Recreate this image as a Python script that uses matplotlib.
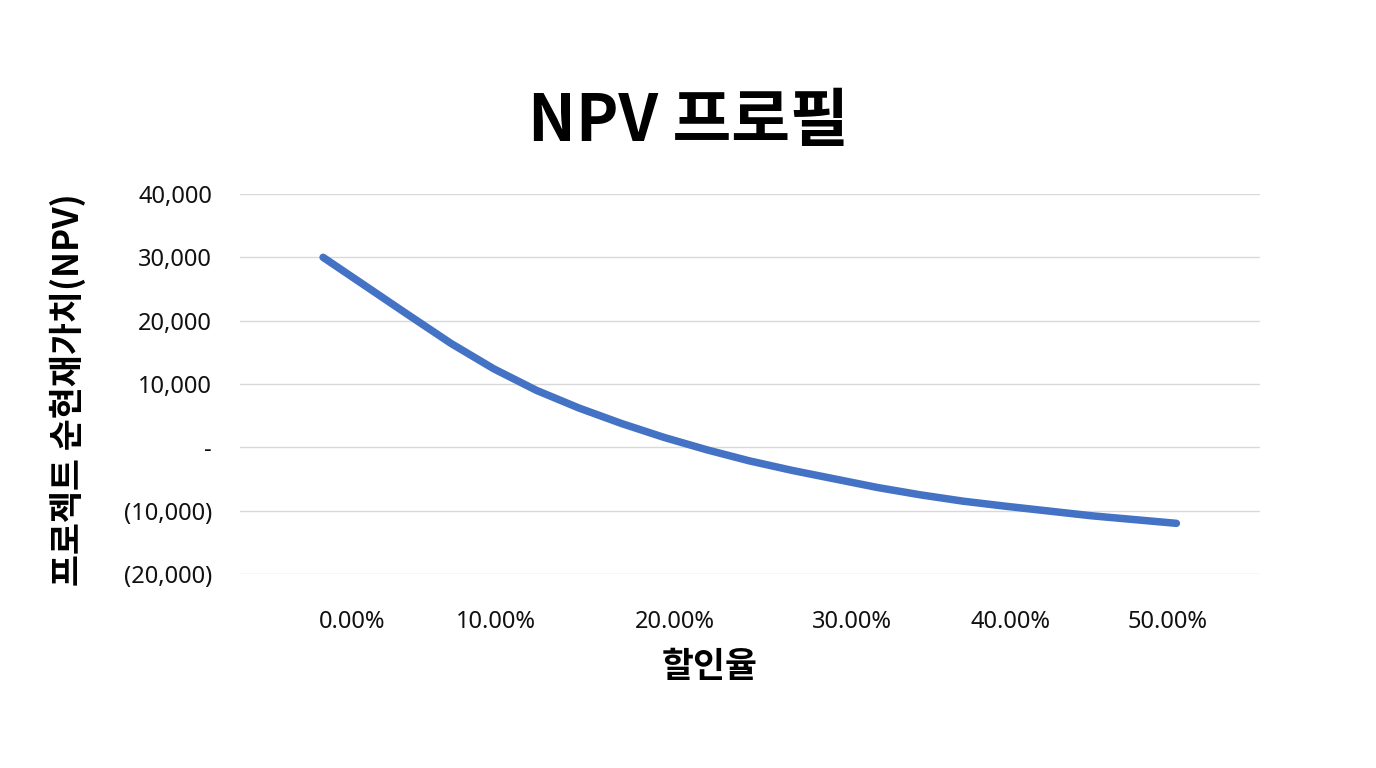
import numpy as np
import matplotlib.pyplot as plt
from matplotlib.ticker import FuncFormatter

plt.rcParams['font.family'] = ['Noto Sans CJK KR', 'DejaVu Sans']

# discount rates and NPV
rates = [0.000, 0.025, 0.050, 0.075, 0.100, 0.125, 0.150, 0.175, 0.200, 0.225,
         0.250, 0.275, 0.300, 0.325, 0.350, 0.375, 0.400, 0.425, 0.450, 0.475, 0.500]
npv = [30000, 25450, 20900, 16400, 12400, 9000, 6200, 3750, 1550, -400,
       -2150, -3650, -5000, -6350, -7500, -8500, -9300, -10050, -10800, -11400, -12000]

# x labels sit a bit off the data in the original
tick_pos = [0.017, 0.101, 0.206, 0.310, 0.403, 0.495]
tick_labels = ['0.00%', '10.00%', '20.00%', '30.00%', '40.00%', '50.00%']
y_ticks = [-20000, -10000, 0, 10000, 20000, 30000, 40000]


def acct(v, pos):
    if v == 0:
        return '-'
    if v < 0:
        return '({:,.0f})'.format(-v)
    return '{:,.0f}'.format(v)


fig = plt.figure(figsize=(13.76, 7.68), dpi=100)
ax = fig.add_axes([0.1744, 0.2526, 0.7413, 0.4948])

ax.plot(rates, npv, color='#4472C4', linewidth=5.4, solid_capstyle='round',
        solid_joinstyle='round')

ax.set_xlim(-0.0487, 0.549)
ax.set_ylim(-20000, 40000)
ax.set_yticks(y_ticks)
ax.yaxis.set_major_formatter(FuncFormatter(acct))
ax.set_xticks(tick_pos)
ax.set_xticklabels(tick_labels)
ax.grid(axis='y', color='#d9d9d9', linewidth=1)
ax.set_axisbelow(True)
for s in ax.spines.values():
    s.set_visible(False)
ax.tick_params(axis='both', length=0, labelsize=17, colors='#111111')
ax.tick_params(axis='y', pad=20)
ax.tick_params(axis='x', pad=26)
for lab in ax.get_xticklabels() + ax.get_yticklabels():
    lab.set_family(['Noto Sans', 'DejaVu Sans'])

fig.text(710 / 1376, 1 - 667 / 768, '할인율', fontsize=25, fontweight='bold',
         ha='center', va='center')
fig.text(68 / 1376, 1 - 390 / 768, '프로젝트 순현재가치(NPV)', fontsize=25,
         fontweight='bold', rotation=90, ha='center', va='center')
fig.text(688 / 1376, 1 - 122 / 768, 'NPV 프로필', fontsize=46, fontweight='bold',
         ha='center', va='center')

fig.savefig('out.png', dpi=100)
